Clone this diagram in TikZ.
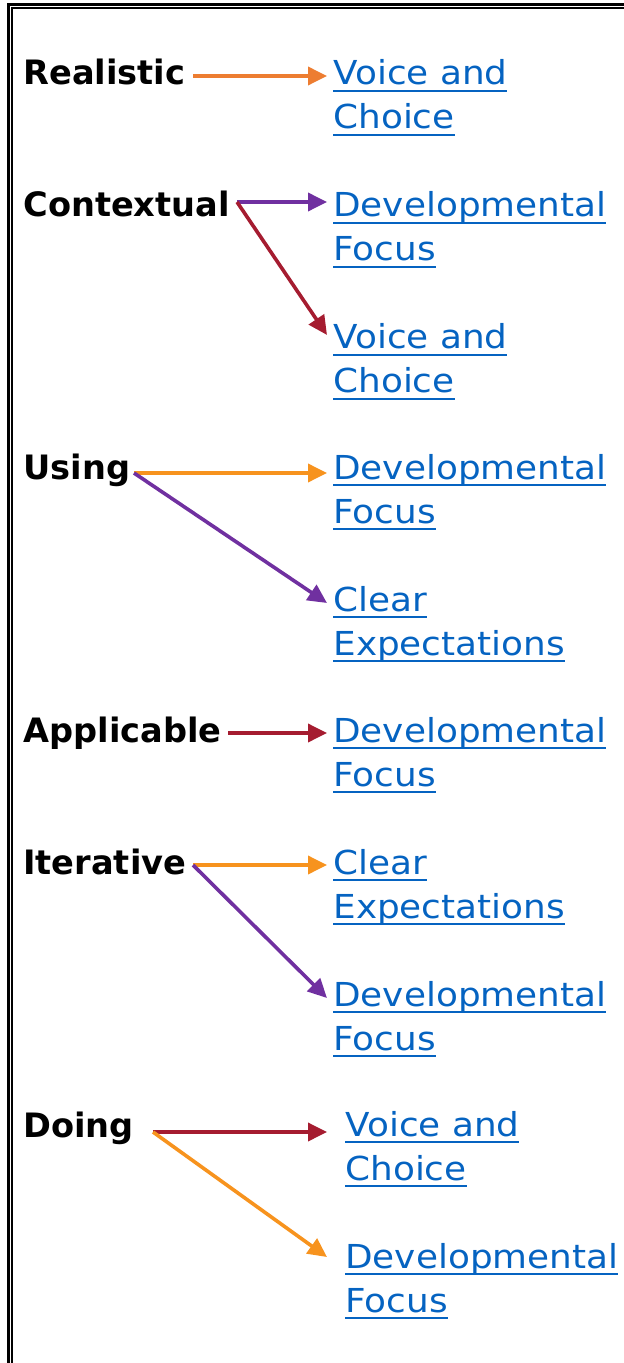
\documentclass[tikz,border=0pt]{standalone}
\usepackage{fontspec}
\usetikzlibrary{arrows.meta, positioning}
\newfontfamily\termfont{DejaVu Sans}
\newfontfamily\linkfont[FakeStretch=1.085]{DejaVu Sans}
\definecolor{linkblue}{HTML}{0563C1}
\definecolor{deeporange}{HTML}{ED7D31}
\definecolor{brightorange}{HTML}{F7931E}
\definecolor{plum}{HTML}{7030A0}
\definecolor{crimson}{HTML}{A51C30}
% underlined link text
\newcommand{\lnk}[1]{{\setbox0=\hbox{#1}\rlap{\rule[-3.4pt]{\wd0}{1.1pt}}\box0}}
\begin{document}
\begin{tikzpicture}[
    x=0.5pt, y=-0.5pt,
    term/.style={font=\termfont\bfseries\fontsize{16.8}{22}\selectfont, anchor=base west, inner sep=0pt},
    link/.style={font=\linkfont\fontsize{16.5}{22}\selectfont, text=linkblue, align=left, anchor=base west, inner sep=0pt},
    arr/.style={-{Triangle[length=9.5pt,width=9pt]}, line width=1.8pt}
]
\useasboundingbox (0,0) rectangle (624,1363);

% Frame
\draw[line width=1.5pt] (8.7,1400) -- (8.7,4.6) -- (700,4.6);
\draw[line width=1pt] (12,1400) -- (12,7.9) -- (700,7.9);

% Terms
\node[term] (realistic) at (23,85) {Realistic};
\node[term] (contextual) at (23,217) {Contextual};
\node[term] (using) at (23,479) {Using};
\node[term] (applicable) at (23,742) {Applicable};
\node[term] (iterative) at (23,874) {Iterative};
\node[term] (doing) at (23,1137) {Doing};

% Links (base = last line)
\node[link] (voice-a) at (333,129) {\lnk{Voice and}\\\lnk{Choice}};
\node[link] (dev-a) at (333,261) {\lnk{Developmental}\\\lnk{Focus}};
\node[link] (voice-b) at (333,393) {\lnk{Voice and}\\\lnk{Choice}};
\node[link] (dev-b) at (333,523) {\lnk{Developmental}\\\lnk{Focus}};
\node[link] (clear-a) at (333,655) {\lnk{Clear}\\\lnk{Expectations}};
\node[link] (dev-c) at (333,786) {\lnk{Developmental}\\\lnk{Focus}};
\node[link] (clear-b) at (333,918) {\lnk{Clear}\\\lnk{Expectations}};
\node[link] (dev-d) at (333,1050) {\lnk{Developmental}\\\lnk{Focus}};
\node[link] (voice-c) at (345,1180) {\lnk{Voice and}\\\lnk{Choice}};
\node[link] (dev-e) at (345,1312) {\lnk{Developmental}\\\lnk{Focus}};

% Arrow ends
\coordinate (realistic-out) at (193,76);
\coordinate (contextual-out) at (237,202);
\coordinate (using-out) at (134,473);
\coordinate (applicable-out) at (228,733);
\coordinate (iterative-out) at (193,865);
\coordinate (doing-out) at (153,1132);

\coordinate (voice-a-in) at (327,76);
\coordinate (dev-a-in) at (327,202);
\coordinate (voice-b-in) at (327,335);
\coordinate (dev-b-in) at (327,473);
\coordinate (clear-a-in) at (327,603);
\coordinate (dev-c-in) at (327,733);
\coordinate (clear-b-in) at (327,865);
\coordinate (dev-d-in) at (327,998);
\coordinate (voice-c-in) at (327,1132);
\coordinate (dev-e-in) at (327,1257);

% Connections
\draw[arr, deeporange] (realistic-out) -- (voice-a-in);
\draw[arr, plum] (contextual-out) -- (dev-a-in);
\draw[arr, crimson] (contextual-out) -- (voice-b-in);
\draw[arr, brightorange] (using-out) -- (dev-b-in);
\draw[arr, plum] (using-out) -- (clear-a-in);
\draw[arr, crimson] (applicable-out) -- (dev-c-in);
\draw[arr, brightorange] (iterative-out) -- (clear-b-in);
\draw[arr, plum] (iterative-out) -- (dev-d-in);
\draw[arr, crimson] (doing-out) -- (voice-c-in);
\draw[arr, brightorange] (doing-out) -- (dev-e-in);

\end{tikzpicture}
\end{document}
